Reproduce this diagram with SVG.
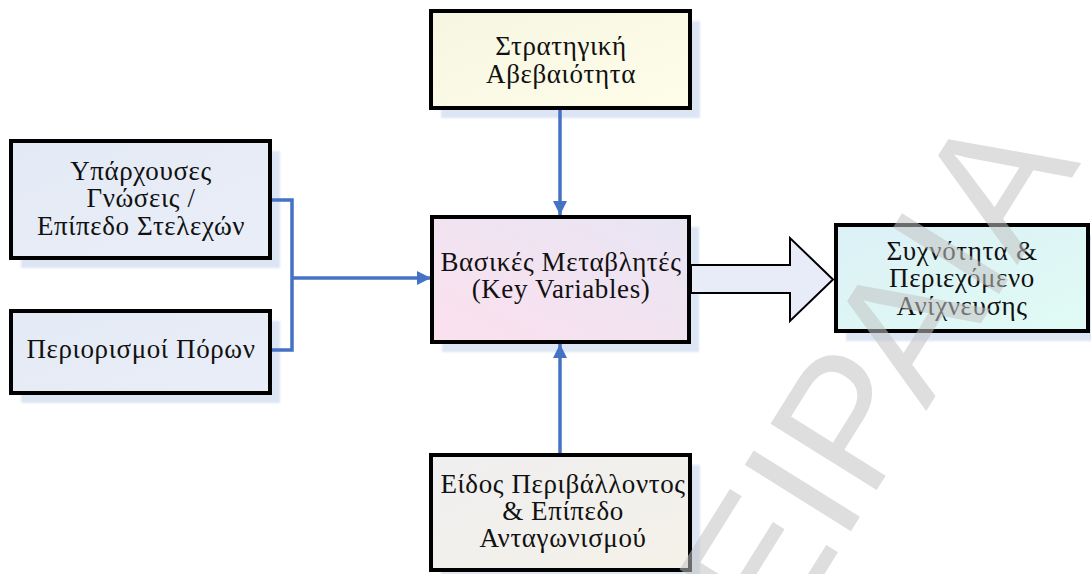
<svg xmlns="http://www.w3.org/2000/svg" width="1091" height="574" viewBox="0 0 1091 574">
  <style>
    .box { stroke: #000; stroke-width: 4; }
    .shadow { fill: #dce5f3; }
    .lbl { font-family: "Liberation Serif", "Times New Roman", serif; font-size: 27px; letter-spacing: 0.6px; fill: #111; text-anchor: middle; }
    .wire { fill: none; stroke: #4472c4; stroke-width: 3.5; }
    .mark { font-family: "Liberation Sans", Arial, sans-serif; font-size: 182px; fill: #c4c4c4; opacity: 0.55; }
  </style>
  <defs>
    <linearGradient id="gTop" x1="0" y1="0" x2="1" y2="1">
      <stop offset="0" stop-color="#f6f6e2"/>
      <stop offset="1" stop-color="#fdfdea"/>
    </linearGradient>
    <linearGradient id="gLeft" x1="0" y1="0" x2="1" y2="1">
      <stop offset="0" stop-color="#e4eaf5"/>
      <stop offset="1" stop-color="#e9eef8"/>
    </linearGradient>
    <linearGradient id="gCenter" x1="0" y1="1" x2="1" y2="0">
      <stop offset="0" stop-color="#fce0ee"/>
      <stop offset="1" stop-color="#e8e6f4"/>
    </linearGradient>
    <linearGradient id="gRight" x1="0" y1="0" x2="1" y2="1">
      <stop offset="0" stop-color="#dcf0f6"/>
      <stop offset="1" stop-color="#e0fbf4"/>
    </linearGradient>
    <linearGradient id="gBottom" x1="0" y1="0" x2="1" y2="1">
      <stop offset="0" stop-color="#f0eff0"/>
      <stop offset="1" stop-color="#f4f1e8"/>
    </linearGradient>
    <filter id="soft" x="-5%" y="-5%" width="110%" height="110%">
      <feGaussianBlur stdDeviation="1"/>
    </filter>
    <marker id="tri" viewBox="0 0 12 12" refX="12" refY="6" markerWidth="14" markerHeight="14" markerUnits="userSpaceOnUse" orient="auto">
      <path d="M0,0 L12,6 L0,12 Z" fill="#4472c4"/>
    </marker>
  </defs>

  <rect width="1091" height="574" fill="#fff"/>

  <!-- drop shadows -->
  <g class="shadows" filter="url(#soft)">
    <rect class="shadow" x="441" y="21" width="259" height="97"/>
    <rect class="shadow" x="21" y="151" width="259" height="117"/>
    <rect class="shadow" x="21" y="321" width="259" height="82"/>
    <rect class="shadow" x="442" y="227" width="257" height="125"/>
    <rect class="shadow" x="846" y="235" width="252" height="106"/>
    <rect class="shadow" x="441" y="465" width="259" height="115"/>
  </g>

  <!-- connectors -->
  <g id="connectors">
    <path class="wire" d="M272,200 H292 V350 H272"/>
    <path class="wire" d="M292,278 H431" marker-end="url(#tri)"/>
    <path class="wire" d="M560,110 V215" marker-end="url(#tri)"/>
    <path class="wire" d="M560,455 V344" marker-end="url(#tri)"/>
    <path d="M691,265 H790 V238 L833,279.5 L790,321 V293 H691 Z" fill="#e8ecf8" stroke="#000" stroke-width="2"/>
  </g>

  <g id="strategic-uncertainty">
    <rect class="box" x="431" y="11" width="259" height="97" fill="url(#gTop)"/>
    <text class="lbl" x="561" y="55">Στρατηγική</text>
    <text class="lbl" x="561" y="83">Αβεβαιότητα</text>
  </g>

  <g id="existing-knowledge">
    <rect class="box" x="11" y="141" width="259" height="117" fill="url(#gLeft)"/>
    <text class="lbl" x="141" y="180">Υπάρχουσες</text>
    <text class="lbl" x="141" y="207">Γνώσεις /</text>
    <text class="lbl" x="141" y="235">Επίπεδο Στελεχών</text>
  </g>

  <g id="resource-limits">
    <rect class="box" x="11" y="311" width="259" height="82" fill="url(#gLeft)"/>
    <text class="lbl" x="141" y="358">Περιορισμοί Πόρων</text>
  </g>

  <g id="key-variables">
    <rect class="box" x="432" y="217" width="257" height="125" fill="url(#gCenter)"/>
    <text class="lbl" x="561" y="271">Βασικές Μεταβλητές</text>
    <text class="lbl" x="561" y="298">(Key Variables)</text>
  </g>

  <g id="scanning">
    <rect class="box" x="836" y="225" width="252" height="106" fill="url(#gRight)"/>
    <text class="lbl" x="962" y="260">Συχνότητα &amp;</text>
    <text class="lbl" x="962" y="287">Περιεχόμενο</text>
    <text class="lbl" x="962" y="315">Ανίχνευσης</text>
  </g>

  <g id="environment">
    <rect class="box" x="431" y="455" width="259" height="115" fill="url(#gBottom)"/>
    <text class="lbl" x="563" y="493">Είδος Περιβάλλοντος</text>
    <text class="lbl" x="563" y="520">&amp; Επίπεδο</text>
    <text class="lbl" x="563" y="547">Ανταγωνισμού</text>
  </g>

  <!-- watermark -->
  <text class="mark" transform="translate(708,760) rotate(-58)">ΠΕΙΡΑΙΑ</text>
</svg>
